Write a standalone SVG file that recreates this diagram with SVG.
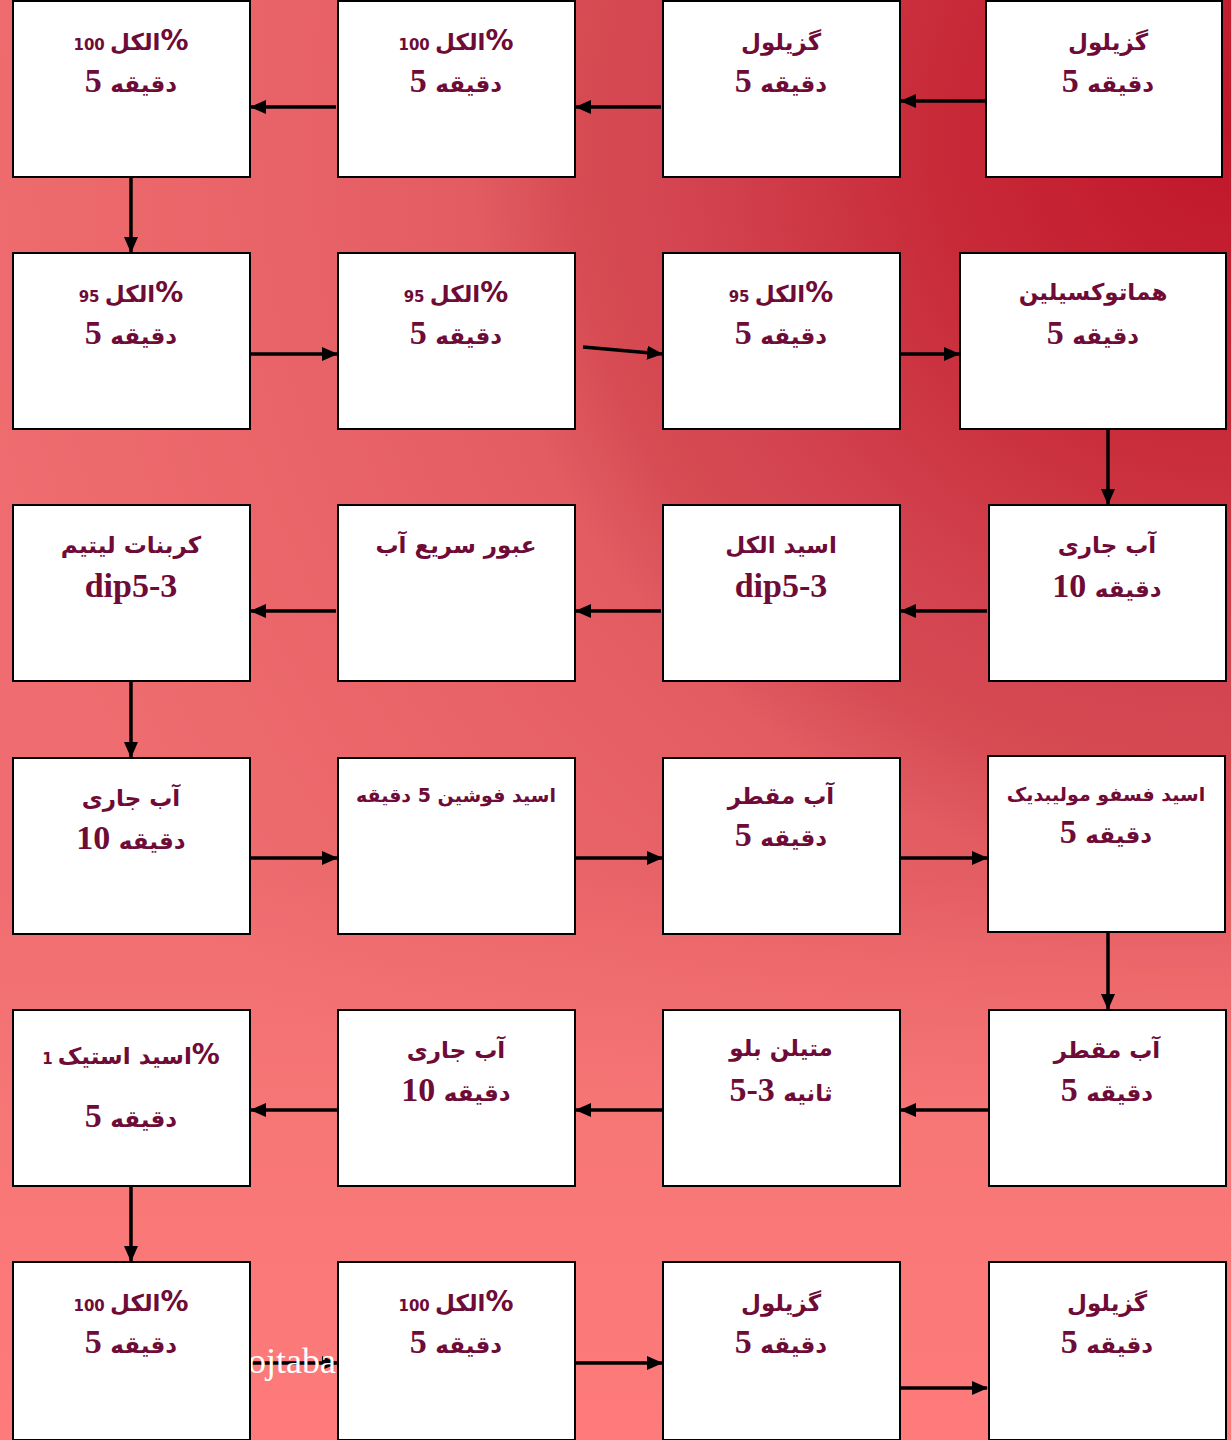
<svg xmlns="http://www.w3.org/2000/svg" width="1231" height="1440" viewBox="0 0 1231 1440">
<defs>
<radialGradient id="bg" gradientUnits="userSpaceOnUse" cx="1231" cy="130" r="1300">
<stop offset="0" stop-color="#c0162a"/>
<stop offset="0.23" stop-color="#c82a38"/>
<stop offset="0.42" stop-color="#d34450"/>
<stop offset="0.5" stop-color="#d64a52"/>
<stop offset="0.585" stop-color="#e25c62"/>
<stop offset="0.73" stop-color="#e86367"/>
<stop offset="0.9" stop-color="#ec696c"/>
<stop offset="1" stop-color="#ef6d70"/>
</radialGradient>
<linearGradient id="bot" gradientUnits="userSpaceOnUse" x1="0" y1="880" x2="0" y2="1440">
<stop offset="0" stop-color="#f77676" stop-opacity="0"/>
<stop offset="0.45" stop-color="#f77676" stop-opacity="1"/>
<stop offset="1" stop-color="#ff7b7b" stop-opacity="1"/>
</linearGradient>
<marker id="ah" markerUnits="userSpaceOnUse" markerWidth="16" markerHeight="14" refX="15" refY="7" orient="auto">
<path d="M0,0 L16,7 L0,14 z" fill="#000"/>
</marker>
<style>
.box{fill:#fff;stroke:#000;stroke-width:2}
.c{stroke:#000;stroke-width:3.5;fill:none;marker-end:url(#ah)}
text{fill:#6e0b36;text-anchor:middle;font-weight:bold}
.a{font-family:"DejaVu Sans",sans-serif;font-size:23px}
.sm{font-size:19px}
.n{font-family:"Liberation Serif",serif;font-size:34px}
.s{font-family:"DejaVu Sans",sans-serif;font-size:15px}
.p{font-family:"DejaVu Sans",sans-serif;font-size:28px}
.wm{fill:#fff;font-family:"Liberation Serif",serif;font-weight:normal;font-size:36px;text-anchor:start}
</style>
</defs>
<rect x="0" y="0" width="1231" height="1440" fill="url(#bg)"/>
<rect x="0" y="880" width="1231" height="560" fill="url(#bot)"/>

<g id="connectors">
<line class="c" x1="988" y1="101" x2="901" y2="101"/>
<line class="c" x1="661" y1="107" x2="576" y2="107"/>
<line class="c" x1="336" y1="107" x2="251" y2="107"/>
<line class="c" x1="131" y1="178" x2="131" y2="252"/>
<line class="c" x1="251" y1="354" x2="337" y2="354"/>
<line class="c" x1="583" y1="347" x2="662" y2="354"/>
<line class="c" x1="901" y1="354" x2="959" y2="354"/>
<line class="c" x1="1108" y1="430" x2="1108" y2="504"/>
<line class="c" x1="987" y1="611" x2="901" y2="611"/>
<line class="c" x1="661" y1="611" x2="576" y2="611"/>
<line class="c" x1="336" y1="611" x2="251" y2="611"/>
<line class="c" x1="131" y1="682" x2="131" y2="757"/>
<line class="c" x1="251" y1="858" x2="337" y2="858"/>
<line class="c" x1="576" y1="858" x2="662" y2="858"/>
<line class="c" x1="901" y1="858" x2="987" y2="858"/>
<line class="c" x1="1108" y1="933" x2="1108" y2="1009"/>
<line class="c" x1="988" y1="1110" x2="901" y2="1110"/>
<line class="c" x1="663" y1="1110" x2="576" y2="1110"/>
<line class="c" x1="338" y1="1110" x2="251" y2="1110"/>
<line class="c" x1="131" y1="1187" x2="131" y2="1261"/>
<line class="c" x1="251" y1="1363" x2="337" y2="1363"/>
<line class="c" x1="576" y1="1363" x2="662" y2="1363"/>
<line class="c" x1="901" y1="1388" x2="987" y2="1388"/>
</g>

<text class="wm" x="248" y="1373">ojtaba</text>

<!-- Row 1 -->
<g id="n1"><rect class="box" x="13" y="1" width="237" height="176"/>
<text x="131" y="50"><tspan class="s">100 </tspan><tspan class="a">الکل</tspan><tspan class="p">%</tspan></text>
<text x="131" y="92"><tspan class="n">5 </tspan><tspan class="a">دقیقه</tspan></text></g>
<g id="n2"><rect class="box" x="338" y="1" width="237" height="176"/>
<text x="456" y="50"><tspan class="s">100 </tspan><tspan class="a">الکل</tspan><tspan class="p">%</tspan></text>
<text x="456" y="92"><tspan class="n">5 </tspan><tspan class="a">دقیقه</tspan></text></g>
<g id="n3"><rect class="box" x="663" y="1" width="237" height="176"/>
<text class="a" x="781" y="50">گزیلول</text>
<text x="781" y="92"><tspan class="n">5 </tspan><tspan class="a">دقیقه</tspan></text></g>
<g id="n4"><rect class="box" x="986" y="1" width="236" height="176"/>
<text class="a" x="1108" y="50">گزیلول</text>
<text x="1108" y="92"><tspan class="n">5 </tspan><tspan class="a">دقیقه</tspan></text></g>

<!-- Row 2 -->
<g id="n5"><rect class="box" x="13" y="253" width="237" height="176"/>
<text x="131" y="302"><tspan class="s">95 </tspan><tspan class="a">الکل</tspan><tspan class="p">%</tspan></text>
<text x="131" y="344"><tspan class="n">5 </tspan><tspan class="a">دقیقه</tspan></text></g>
<g id="n6"><rect class="box" x="338" y="253" width="237" height="176"/>
<text x="456" y="302"><tspan class="s">95 </tspan><tspan class="a">الکل</tspan><tspan class="p">%</tspan></text>
<text x="456" y="344"><tspan class="n">5 </tspan><tspan class="a">دقیقه</tspan></text></g>
<g id="n7"><rect class="box" x="663" y="253" width="237" height="176"/>
<text x="781" y="302"><tspan class="s">95 </tspan><tspan class="a">الکل</tspan><tspan class="p">%</tspan></text>
<text x="781" y="344"><tspan class="n">5 </tspan><tspan class="a">دقیقه</tspan></text></g>
<g id="n8"><rect class="box" x="960" y="253" width="266" height="176"/>
<text class="a" x="1093" y="300">هماتوکسیلین</text>
<text x="1093" y="344"><tspan class="n">5 </tspan><tspan class="a">دقیقه</tspan></text></g>

<!-- Row 3 -->
<g id="n9"><rect class="box" x="13" y="505" width="237" height="176"/>
<text class="a" x="131" y="553">کربنات لیتیم</text>
<text class="n" x="131" y="597">dip5-3</text></g>
<g id="n10"><rect class="box" x="338" y="505" width="237" height="176"/>
<text class="a" x="456" y="553">عبور سریع آب</text></g>
<g id="n11"><rect class="box" x="663" y="505" width="237" height="176"/>
<text class="a" x="781" y="553">اسید الکل</text>
<text class="n" x="781" y="597">dip5-3</text></g>
<g id="n12"><rect class="box" x="989" y="505" width="237" height="176"/>
<text class="a" x="1107" y="553">آب جاری</text>
<text x="1107" y="597"><tspan class="n">10 </tspan><tspan class="a">دقیقه</tspan></text></g>

<!-- Row 4 -->
<g id="n13"><rect class="box" x="13" y="758" width="237" height="176"/>
<text class="a" x="131" y="806">آب جاری</text>
<text x="131" y="849"><tspan class="n">10 </tspan><tspan class="a">دقیقه</tspan></text></g>
<g id="n14"><rect class="box" x="338" y="758" width="237" height="176"/>
<text class="a sm" x="456" y="802">اسید فوشین 5 دقیقه</text></g>
<g id="n15"><rect class="box" x="663" y="758" width="237" height="176"/>
<text class="a" x="781" y="804">آب مقطر</text>
<text x="781" y="846"><tspan class="n">5 </tspan><tspan class="a">دقیقه</tspan></text></g>
<g id="n16"><rect class="box" x="988" y="756" width="237" height="176"/>
<text class="a sm" x="1106" y="801">اسید فسفو مولیبدیک</text>
<text x="1106" y="843"><tspan class="n">5 </tspan><tspan class="a">دقیقه</tspan></text></g>

<!-- Row 5 -->
<g id="n17"><rect class="box" x="13" y="1010" width="237" height="176"/>
<text x="131" y="1064"><tspan class="s">1 </tspan><tspan class="a">اسید استیک</tspan><tspan class="p">%</tspan></text>
<text x="131" y="1127"><tspan class="n">5 </tspan><tspan class="a">دقیقه</tspan></text></g>
<g id="n18"><rect class="box" x="338" y="1010" width="237" height="176"/>
<text class="a" x="456" y="1058">آب جاری</text>
<text x="456" y="1101"><tspan class="n">10 </tspan><tspan class="a">دقیقه</tspan></text></g>
<g id="n19"><rect class="box" x="663" y="1010" width="237" height="176"/>
<text class="a" x="781" y="1056">متیلن بلو</text>
<text x="781" y="1101"><tspan class="n">5-3 </tspan><tspan class="a">ثانیه</tspan></text></g>
<g id="n20"><rect class="box" x="989" y="1010" width="237" height="176"/>
<text class="a" x="1107" y="1058">آب مقطر</text>
<text x="1107" y="1101"><tspan class="n">5 </tspan><tspan class="a">دقیقه</tspan></text></g>

<!-- Row 6 -->
<g id="n21"><rect class="box" x="13" y="1262" width="237" height="178"/>
<text x="131" y="1311"><tspan class="s">100 </tspan><tspan class="a">الکل</tspan><tspan class="p">%</tspan></text>
<text x="131" y="1353"><tspan class="n">5 </tspan><tspan class="a">دقیقه</tspan></text></g>
<g id="n22"><rect class="box" x="338" y="1262" width="237" height="178"/>
<text x="456" y="1311"><tspan class="s">100 </tspan><tspan class="a">الکل</tspan><tspan class="p">%</tspan></text>
<text x="456" y="1353"><tspan class="n">5 </tspan><tspan class="a">دقیقه</tspan></text></g>
<g id="n23"><rect class="box" x="663" y="1262" width="237" height="178"/>
<text class="a" x="781" y="1311">گزیلول</text>
<text x="781" y="1353"><tspan class="n">5 </tspan><tspan class="a">دقیقه</tspan></text></g>
<g id="n24"><rect class="box" x="989" y="1262" width="237" height="178"/>
<text class="a" x="1107" y="1311">گزیلول</text>
<text x="1107" y="1353"><tspan class="n">5 </tspan><tspan class="a">دقیقه</tspan></text></g>
</svg>
